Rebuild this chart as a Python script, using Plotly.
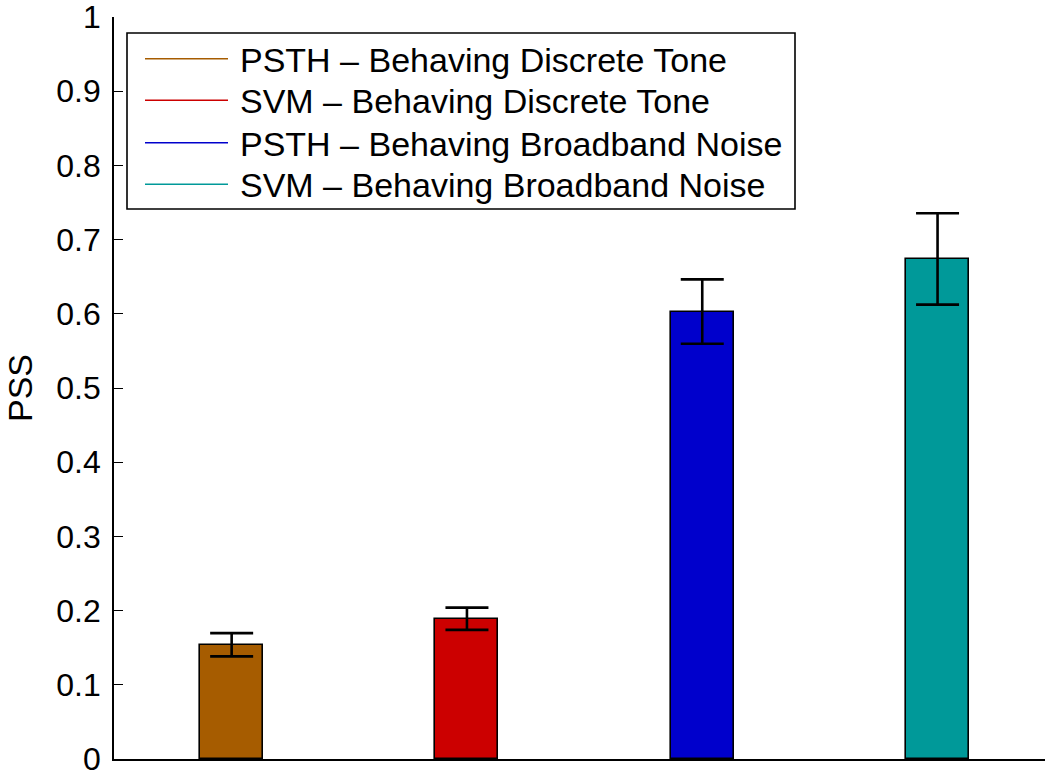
import plotly.graph_objects as go

# PSS per condition, with error bar half-lengths
labels = [
    "PSTH \u2013 Behaving Discrete Tone",
    "SVM \u2013 Behaving Discrete Tone",
    "PSTH \u2013 Behaving Broadband Noise",
    "SVM \u2013 Behaving Broadband Noise",
]
positions = [1, 2, 3, 4]
pss = [0.154, 0.189, 0.603, 0.674]
pss_err = [0.0157, 0.015, 0.0434, 0.0616]
colors = ["#A65C00", "#CC0000", "#0000CC", "#009999"]
y_ticks = [0, 0.1, 0.2, 0.3, 0.4, 0.5, 0.6, 0.7, 0.8, 0.9, 1]

W, H = 1045, 778
ML, MR, MT, MB = 114, 0, 17, 19
PW, PH = W - ML - MR, H - MT - MB
FONT = "Liberation Sans, Arial, Helvetica, sans-serif"


def px_x(p):
    return (p - ML) / PW


def px_y(p):
    return (H - MB - p) / PH


fig = go.Figure()
for x, v, e, c in zip(positions, pss, pss_err, colors):
    fig.add_trace(go.Bar(
        x=[x], y=[v], width=0.268,
        marker=dict(color=c, line=dict(color="black", width=1.6)),
        error_y=dict(type="data", array=[e], visible=True, color="black",
                     thickness=2.6, width=21.5),
        showlegend=False,
    ))

# legend drawn as a framed box with coloured line keys
shapes = [dict(type="rect", xref="paper", yref="paper",
               x0=px_x(127), x1=px_x(795), y0=px_y(209), y1=px_y(33),
               line=dict(color="black", width=1.6), fillcolor="white", layer="above")]
annotations = []
row_y = [58.7, 100.3, 142.7, 184.3]
for lab, c, ry in zip(labels, colors, row_y):
    shapes.append(dict(type="line", xref="paper", yref="paper",
                       x0=px_x(145), x1=px_x(228), y0=px_y(ry), y1=px_y(ry),
                       line=dict(color=c, width=1.6), layer="above"))
    annotations.append(dict(xref="paper", yref="paper", x=px_x(238), y=px_y(ry + 1),
                            text=lab, showarrow=False, xanchor="left", yanchor="middle",
                            font=dict(family=FONT, size=34, color="black")))

fig.update_layout(
    width=W, height=H,
    margin=dict(l=ML, r=MR, t=MT, b=MB, pad=0),
    paper_bgcolor="white", plot_bgcolor="white",
    font=dict(family=FONT, size=34, color="black"),
    bargap=0,
    shapes=shapes,
    annotations=annotations,
    xaxis=dict(range=[0.5, 0.5 + PW / 235.3], showticklabels=False, ticks="",
               showgrid=False, zeroline=False, showline=True, linecolor="black",
               linewidth=1.6, fixedrange=True),
    yaxis=dict(range=[0, 1], tickvals=y_ticks, ticktext=[f"{t:g}" for t in y_ticks],
               ticks="inside", ticklen=9, tickwidth=1.4, tickcolor="black",
               tickfont=dict(family=FONT, size=32),
               showgrid=False, zeroline=False, showline=True, linecolor="black",
               linewidth=1.6, ticklabelstandoff=5, ticklabeloverflow="allow",
               title=dict(text="PSS", font=dict(family=FONT, size=34), standoff=13),
               automargin=False, fixedrange=True),
)

fig.write_html("out.html")
